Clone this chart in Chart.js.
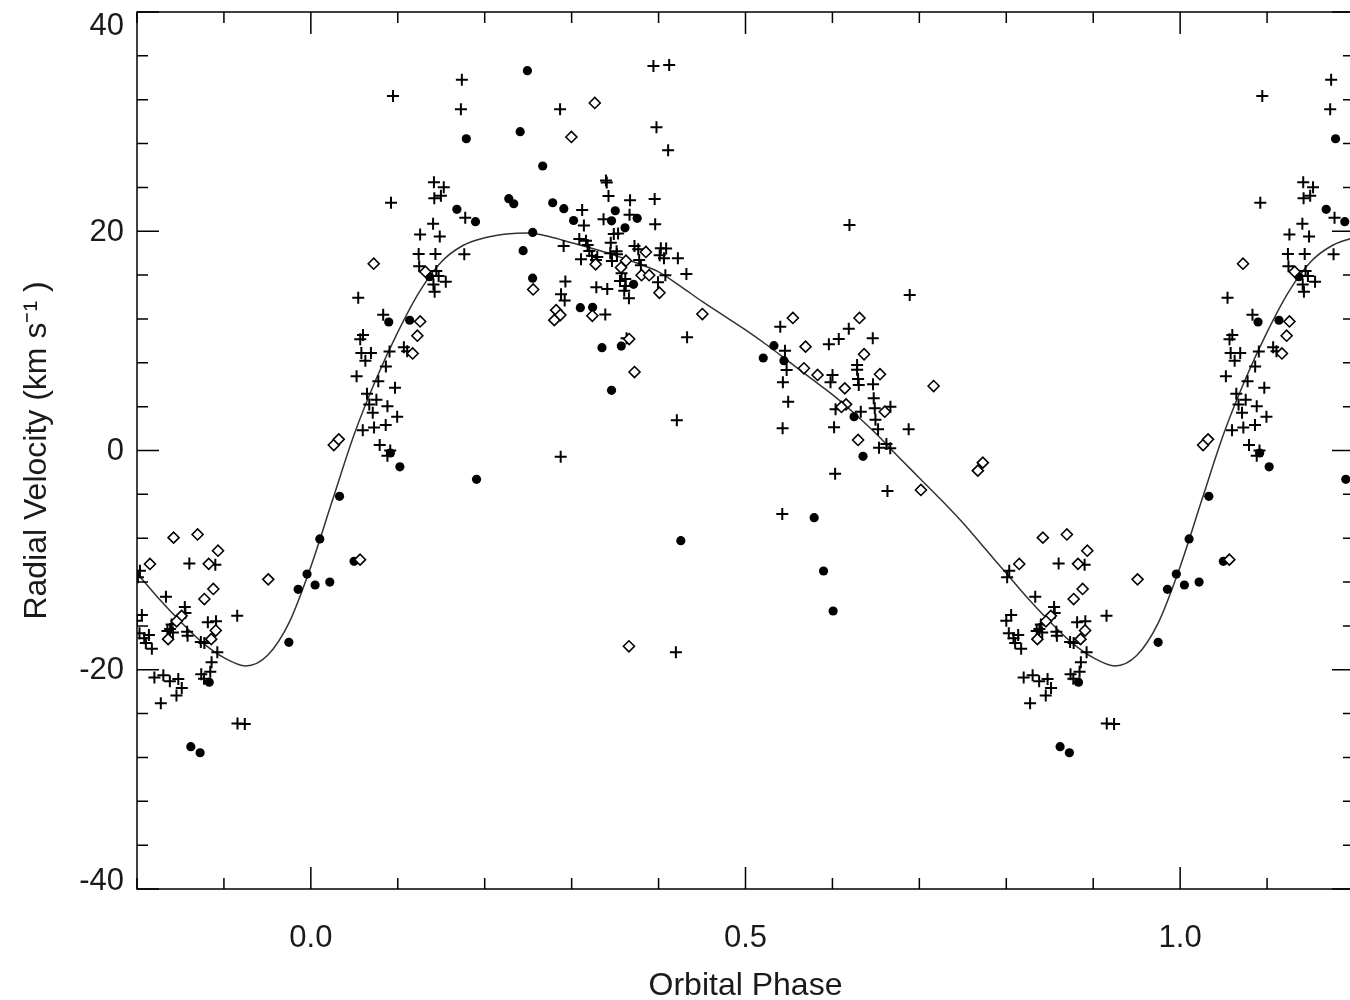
<!DOCTYPE html>
<html><head><meta charset="utf-8">
<script src="https://cdn.jsdelivr.net/npm/chart.js@4.4.0/dist/chart.umd.min.js"></script>
<style>
html,body{margin:0;padding:0;background:#fff;overflow:hidden;}
#wrap{width:1362px;height:1000px;position:relative;}
</style></head><body>
<div id="wrap"><canvas id="c" width="1362" height="1000"></canvas></div>
<script>
// ---- data (orbital phase 0..1, radial velocity km/s) ----
const plusPhase = [0.1737,0.0945,0.1726,0.1416,0.1529,0.1420,0.1496,0.0922,0.1776,0.1406,0.1257,0.1483,0.1240,0.1433,0.1765,0.1246,0.1443,0.1470,0.1552,0.1410,0.1424,0.0545,0.0832,0.0600,0.0568,0.0581,0.0691,0.0627,0.0905,0.1070,0.1108,0.0863,0.0526,0.0776,0.0968,0.0646,0.0754,0.0672,0.0712,0.0881,0.0993,0.0597,0.0727,0.0861,0.0792,0.0913,0.0881,0.2874,0.2867,0.3941,0.4122,0.3976,0.4110,0.3395,0.3404,0.3424,0.3672,0.3955,0.3121,0.3141,0.3367,0.3666,0.3961,0.3485,0.3534,0.3088,0.3165,0.3184,0.2908,0.3450,0.3203,0.3234,0.3295,0.3280,0.3444,0.3517,0.3521,0.3723,0.3766,0.4026,0.4087,0.4013,0.4062,0.4222,0.3108,0.3464,0.3777,0.3797,0.3574,0.3617,0.3556,0.4078,0.4320,0.3993,0.2928,0.3284,0.3410,0.3622,0.3605,0.3659,0.2878,0.2920,0.3387,0.4328,0.3632,0.4210,0.4199,0.6196,0.6889,0.5400,0.6188,0.6073,0.5959,0.6464,0.5454,0.5473,0.6284,0.6284,0.6001,0.5978,0.6295,0.6303,0.6467,0.5430,0.5491,0.6036,0.6326,0.6475,0.6487,0.6495,0.6667,0.6525,0.6877,0.5427,0.6019,0.6536,0.6621,0.6665,0.6031,0.6633,0.5423,0.8602,0.8901,0.8034,0.8010,0.8333,0.8550,0.8557,0.9153,0.8056,0.8000,0.8398,0.8381,0.8350,0.8413,0.8815,0.8909,0.8029,0.8137,0.8083,0.8102,0.8171,0.8576,0.8582,0.8734,0.8775,0.8924,0.8858,0.8843,0.8739,0.8771,0.8200,0.8303,0.8378,0.8475,0.8515,0.8454,0.8274,0.9156,0.9240];
const plusRV = [33.82,32.34,31.12,24.47,24.02,23.01,23.24,22.60,21.24,20.69,19.70,19.52,17.92,17.92,17.90,16.81,16.37,15.92,15.39,15.14,14.48,13.94,12.39,10.54,10.15,8.89,8.89,8.18,9.03,9.41,9.06,7.66,6.78,6.32,5.73,5.17,4.64,4.19,3.44,4.03,3.08,1.84,2.10,2.33,0.50,0.00,-0.47,-0.57,31.12,35.07,35.17,29.48,27.38,24.63,24.45,23.22,22.82,22.94,21.94,20.52,21.09,21.50,20.63,19.75,19.79,19.29,19.14,18.75,18.65,18.96,18.20,17.77,17.65,17.38,17.99,18.17,17.90,18.65,18.36,18.44,18.43,17.81,17.53,17.54,17.44,17.29,17.38,16.89,16.16,15.64,15.46,15.99,16.10,15.34,15.42,14.89,14.73,15.01,14.58,13.88,14.25,13.68,12.40,10.33,10.23,2.75,-18.41,20.57,14.18,11.29,11.11,10.17,9.69,10.23,9.10,7.34,7.80,7.37,6.89,6.22,6.52,5.97,6.04,6.22,4.45,3.76,3.54,4.76,3.85,2.81,4.00,1.93,1.93,2.03,2.12,0.26,0.59,0.20,-2.12,-3.69,-5.79,-10.31,-10.42,-10.97,-11.56,-13.34,-14.28,-14.82,-15.08,-15.01,-15.53,-15.87,-16.28,-16.47,-16.60,-15.67,-15.57,-16.68,-16.83,-17.13,-17.56,-18.08,-16.53,-16.90,-17.47,-17.56,-18.41,-19.32,-20.18,-20.41,-20.82,-20.71,-20.51,-21.04,-20.84,-21.66,-22.35,-23.05,-24.90,-24.95];

const dotPhase = [0.2491,0.2408,0.1788,0.2667,0.2277,0.2334,0.2782,0.2910,0.1680,0.1894,0.3022,0.2552,0.2442,0.1366,0.2551,0.3502,0.3459,0.3754,0.3614,0.3712,0.3100,0.3241,0.0896,0.1137,0.3349,0.3571,0.3459,0.0915,0.1024,0.1906,0.4256,0.5327,0.5204,0.5442,0.6249,0.6352,0.5790,0.5898,0.6008,0.8831,0.8619,0.8726,0.9956,0.9854,0.9747,0.0049,0.0218,0.0103,0.0497,0.0330];
const dotRV = [34.65,29.08,28.44,25.95,22.97,22.51,22.60,22.06,22.00,20.87,20.98,19.89,18.23,15.85,15.72,21.87,20.95,21.18,20.31,15.16,13.03,13.06,11.72,11.88,9.38,9.53,5.49,-0.23,-1.49,-2.63,-8.23,9.56,8.44,8.19,3.08,-0.53,-6.13,-10.99,-14.64,-21.14,-27.02,-27.57,-11.27,-12.66,-17.50,-12.27,-12.00,-8.07,-10.11,-4.18];

const diamondPhase = [0.3266,0.2997,0.0723,0.1317,0.2557,0.3276,0.3625,0.3568,0.3854,0.3804,0.3892,0.4010,0.4504,0.2822,0.2870,0.2801,0.3238,0.1257,0.1225,0.1171,0.3662,0.3723,0.0264,0.0321,0.0566,0.3659,0.5545,0.6311,0.5691,0.6364,0.5672,0.5829,0.6547,0.6142,0.6157,0.6104,0.6602,0.6295,0.7164,0.7730,0.7673,0.7018,0.8421,0.8697,0.8932,0.8149,0.8825,0.9510,0.8878,0.8775,0.8513,0.8456,0.8358,0.8906,0.8854];
const diamondRV = [31.70,28.60,17.04,16.31,14.69,16.99,17.31,16.69,18.11,15.99,15.99,14.39,12.45,12.80,12.36,11.89,12.29,11.77,10.47,8.85,10.17,7.16,0.50,1.02,-9.96,-17.86,12.09,12.09,9.47,8.78,7.50,6.89,6.96,5.67,4.21,3.97,3.54,0.96,5.88,-1.11,-1.84,-3.60,-7.95,-7.66,-9.14,-10.35,-10.34,-11.75,-12.63,-13.55,-15.08,-15.58,-17.21,-16.42,-17.21];

// model orbit curve
const curvePhase = [0,0.025,0.05,0.075,0.1,0.125,0.15,0.175,0.2,0.225,0.25,0.275,0.3,0.325,0.35,0.375,0.4,0.425,0.45,0.475,0.5,0.525,0.55,0.575,0.6,0.625,0.65,0.675,0.7,0.725,0.75,0.775,0.8,0.825,0.85,0.875,0.9,0.925,0.95,0.975,1.0];
const curveRV = [-10.6,-4.5,1.5,6.5,10.8,14.5,17.2,18.7,19.4,19.75,19.85,19.5,18.95,18.4,17.8,17.1,16.3,15.0,13.6,12.3,11.0,9.6,8.1,6.6,5.1,3.4,1.55,-0.5,-2.5,-4.5,-6.6,-8.9,-11.2,-13.5,-15.6,-17.5,-18.9,-19.65,-18.7,-15.7,-10.6];

const xTickLabels = [0.0, 0.5, 1.0];
const yTickLabels = [-40, -20, 0, 20, 40];
const xRange = [-0.2, 1.2];
const yRange = [-40, 40];

// ---- build plotted tables (each observation shown at phase-1, phase, phase+1 inside the window) ----
function wrapPoints(ph, rv) {
  const out = [];
  for (let i = 0; i < ph.length; i++) {
    for (const s of [-1, 0, 1]) {
      const p = ph[i] + s;
      if (p >= xRange[0] - 0.001 && p <= xRange[1] + 0.01) out.push({x: p, y: rv[i]});
    }
  }
  return out;
}
function wrapCurve(ph, rv) {
  const out = [];
  for (const s of [-1, 0, 1]) {
    for (let i = 0; i < ph.length; i++) {
      const p = ph[i] + s;
      if (p >= xRange[0] - 0.03 && p <= xRange[1] + 0.03) out.push({x: p, y: rv[i]});
    }
  }
  out.sort((a, b) => a.x - b.x);
  return out.filter((d, i) => i === 0 || Math.abs(d.x - out[i - 1].x) > 1e-6);
}

const FONT = '"Liberation Sans", Arial, Helvetica, sans-serif';
const TXT = '#1a1a1a';

const frameTicks = {
  id: 'frameTicks',
  afterDatasetsDraw(chart) {
    const {ctx, chartArea: a, scales: {x, y}} = chart;
    ctx.save();
    ctx.strokeStyle = '#000';
    ctx.lineWidth = 1.5;
    ctx.strokeRect(a.left, a.top, a.right - a.left, a.bottom - a.top);
    ctx.beginPath();
    for (let k = -2; k <= 12; k++) {
      const v = k / 10;
      const px = x.getPixelForValue(v);
      const major = xTickLabels.some(t => Math.abs(t - v) < 1e-9);
      const len = major ? 22 : 11;
      ctx.moveTo(px, a.bottom); ctx.lineTo(px, a.bottom - len);
      ctx.moveTo(px, a.top); ctx.lineTo(px, a.top + len);
    }
    for (let v = -40; v <= 40; v += 4) {
      const py = y.getPixelForValue(v);
      const major = yTickLabels.includes(v);
      const len = major ? 22 : 11;
      ctx.moveTo(a.left, py); ctx.lineTo(a.left + len, py);
      ctx.moveTo(a.right, py); ctx.lineTo(a.right - len, py);
    }
    ctx.stroke();
    // y tick labels (kept inside the frame's height at the ends, as in the original)
    ctx.fillStyle = TXT;
    ctx.font = '31px ' + FONT;
    ctx.textAlign = 'right';
    ctx.textBaseline = 'middle';
    for (const v of yTickLabels) {
      let py = y.getPixelForValue(v);
      py = Math.min(Math.max(py, a.top + 13), a.bottom - 9);
      ctx.fillText(String(v), a.left - 13, py + 1);
    }
    ctx.restore();
  }
};

new Chart(document.getElementById('c'), {
  type: 'scatter',
  data: {
    datasets: [
      {
        label: 'diamonds', data: wrapPoints(diamondPhase, diamondRV),
        pointStyle: 'rectRot', pointRadius: 5.5, pointBorderWidth: 1.6,
        pointBackgroundColor: '#fff', pointBorderColor: '#000', order: 0
      },
      {
        label: 'dots', data: wrapPoints(dotPhase, dotRV),
        pointStyle: 'circle', pointRadius: 4.6, pointBorderWidth: 0,
        pointBackgroundColor: '#000', pointBorderColor: '#000', order: 1
      },
      {
        label: 'plus', data: wrapPoints(plusPhase, plusRV),
        pointStyle: 'cross', pointRadius: 6, pointBorderWidth: 2,
        pointBorderColor: '#000', order: 2
      },
      {
        type: 'line', label: 'orbit', data: wrapCurve(curvePhase, curveRV),
        borderColor: '#333', borderWidth: 1.5, pointRadius: 0,
        cubicInterpolationMode: 'monotone', fill: false, order: 3
      }
    ]
  },
  options: {
    responsive: false, animation: false,
    layout: {padding: {top: 12, right: 6, left: 0, bottom: 0}},
    plugins: {legend: {display: false}, tooltip: {enabled: false}},
    scales: {
      x: {
        type: 'linear', min: xRange[0], max: xRange[1], position: 'bottom',
        grid: {display: false, drawTicks: false}, border: {display: false},
        afterFit(s) { s.height = 111; s.paddingLeft = 0; s.paddingRight = 0; },
        afterBuildTicks(s) { s.ticks = xTickLabels.map(v => ({value: v})); },
        ticks: {
          color: TXT, font: {family: FONT, size: 31}, padding: 31,
          maxRotation: 0, autoSkip: false,
          callback: v => Number(v).toFixed(1)
        },
        title: {
          display: true, text: 'Orbital Phase', color: TXT,
          font: {family: FONT, size: 32, lineHeight: 0.8}, padding: {top: 0, bottom: 1}
        }
      },
      y: {
        type: 'linear', min: yRange[0], max: yRange[1], position: 'left',
        grid: {display: false, drawTicks: false}, border: {display: false},
        afterFit(s) { s.width = 137; s.paddingTop = 0; s.paddingBottom = 0; },
        afterBuildTicks(s) { s.ticks = yTickLabels.map(v => ({value: v})); },
        ticks: { display: false },
        title: {
          display: true, text: 'Radial Velocity (km s\u207B\u00B9 )', color: TXT,
          font: {family: FONT, size: 32, lineHeight: 1}, padding: {top: 21, bottom: 0}
        }
      }
    }
  },
  plugins: [frameTicks]
});
</script>
</body></html>
